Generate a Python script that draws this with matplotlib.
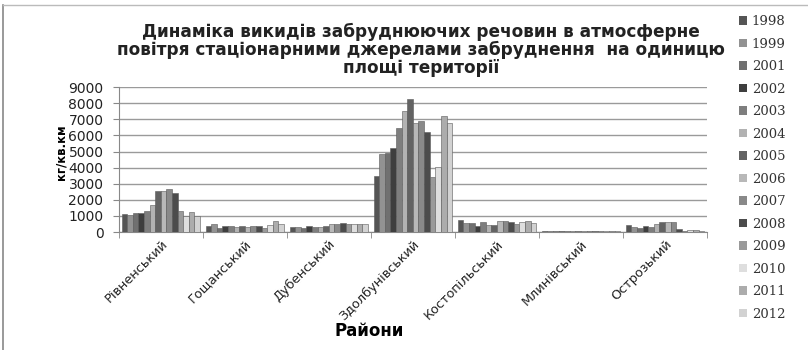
import matplotlib
matplotlib.use('Agg')
import matplotlib.pyplot as plt
import matplotlib.transforms as mtransforms
import numpy as np
from matplotlib.lines import Line2D

# дані з діаграми (кг/кв.км)
raiony = ['Рівненський', 'Гощанський', 'Дубенський', 'Здолбунівський',
          'Костопільський', 'Млинівський', 'Острозький']
roky = ['1998', '1999', '2001', '2002', '2003', '2004', '2005',
        '2006', '2007', '2008', '2009', '2010', '2011', '2012']

rivnenskyi = [1100, 1060, 1200, 1160, 1290, 1680, 2560, 2580, 2700, 2410, 1310, 980, 1250, 980]
goshchanskyi = [400, 490, 280, 360, 360, 320, 360, 320, 360, 360, 260, 410, 700, 490]
dubenskyi = [320, 300, 260, 360, 340, 340, 400, 530, 530, 550, 490, 470, 470, 470]
zdolbunivskyi = [3470, 4840, 4890, 5220, 6440, 7530, 8250, 6780, 6900, 6240, 3410, 4030, 7210, 6800]
kostopilskyi = [740, 540, 540, 360, 620, 420, 460, 660, 700, 600, 500, 640, 660, 560]
mlynivskyi = [90, 70, 60, 50, 60, 50, 60, 50, 50, 60, 50, 60, 50, 50]
ostrozkyi = [420, 320, 280, 360, 340, 500, 640, 620, 600, 200, 80, 100, 120, 80]

dani = np.array([rivnenskyi, goshchanskyi, dubenskyi, zdolbunivskyi,
                 kostopilskyi, mlynivskyi, ostrozkyi])

kolory = ['#555555', '#929292', '#707070', '#3e3e3e', '#7e7e7e', '#b2b2b2', '#636363',
          '#b8b8b8', '#898989', '#4c4c4c', '#9a9a9a', '#dedede', '#acacac', '#d2d2d2']

fig = plt.figure(figsize=(8.08, 3.5), dpi=100)
ax = fig.add_axes([0.147, 0.337, 0.728, 0.414])

n = len(roky)
w = 1.0 / (n + 1)
x = np.arange(len(raiony))
for j in range(n):
    ax.bar(x + (j - (n - 1) / 2) * w, dani[:, j], width=w, color=kolory[j],
           edgecolor='#5a5a5a', linewidth=0.4, label=roky[j], zorder=3)

ax.set_xlim(-0.5, len(raiony) - 0.5)
ax.set_ylim(0, 9000)
ax.set_yticks(np.arange(0, 9001, 1000))
ax.yaxis.grid(True, color='#9a9a9a', linewidth=1.0, zorder=0)
ax.set_axisbelow(True)

ax.set_xticks(x)
ax.set_xticklabels(raiony, rotation=45, ha='right', rotation_mode='anchor',
                   fontsize=9.3, color='#222222')
zsuv = mtransforms.ScaledTranslation(-9 / 100, 0, fig.dpi_scale_trans)
for t in ax.get_xticklabels():
    t.set_transform(t.get_transform() + zsuv)
ax.set_xticks(np.arange(-0.5, len(raiony), 1), minor=True)
ax.tick_params(axis='x', which='major', length=0, pad=4)
ax.tick_params(axis='x', which='minor', length=4, color='#888888')
ax.tick_params(axis='y', length=4, color='#888888', labelsize=10,
               labelcolor='#222222', pad=7)

for s in ['top', 'right']:
    ax.spines[s].set_visible(False)
for s in ['left', 'bottom']:
    ax.spines[s].set_color('#888888')

ax.set_ylabel('кг/кв.км', fontweight='bold', fontsize=8.5)
ax.yaxis.set_label_coords(-0.088, 0.55)
ax.set_xlabel('Райони', fontweight='bold', fontsize=12)
ax.xaxis.set_label_coords(0.425, -0.62)

fig.text(0.521, 0.857, 'Динаміка викидів забруднюючих речовин в атмосферне\n'
         'повітря стаціонарними джерелами забруднення  на одиницю\n'
         'площі території', ha='center', va='center',
         fontweight='bold', fontsize=12.2, linespacing=1.0, color='#222222')

leg = fig.legend(loc='upper left', bbox_to_anchor=(0.914, 0.957), frameon=False,
                 prop={'family': 'DejaVu Serif', 'size': 9.5}, handlelength=0.65,
                 handleheight=0.65, handletextpad=0.35, labelspacing=0.72,
                 borderpad=0, borderaxespad=0)
for t in leg.get_texts():
    t.set_color('#333333')
for h in leg.legend_handles:
    h.set_edgecolor('none')

# рамка області діаграми
fig.add_artist(Line2D([0.004, 0.004], [0.0, 0.985], color='#888888', lw=1.2))
fig.add_artist(Line2D([0.004, 1.0], [0.985, 0.985], color='#bbbbbb', lw=1.0))

fig.savefig('out.png', dpi=100)
